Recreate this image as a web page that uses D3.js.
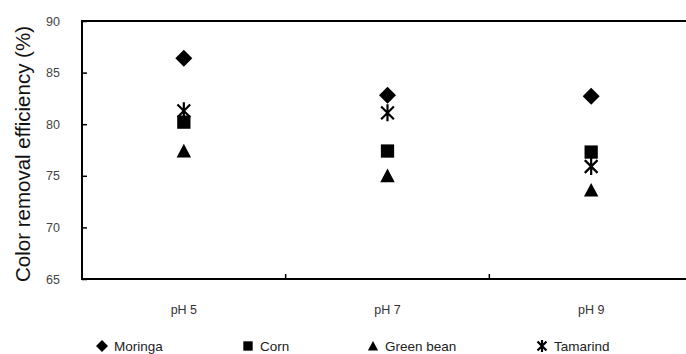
<!DOCTYPE html>
<html>
<head>
<meta charset="utf-8">
<script src="https://cdn.jsdelivr.net/npm/d3@7/dist/d3.min.js"></script>
<style>
  body { margin: 0; background: #fff; }
  text { font-family: Arial, "Liberation Sans", sans-serif; }
</style>
</head>
<body>
<div id="graph"></div>
<script>
// chart data
const categories = ["pH 5", "pH 7", "pH 9"];
const seriesNames = ["Moringa", "Corn", "Green bean", "Tamarind"];
const moringa = [86.4, 82.8, 82.7];
const corn = [80.2, 77.4, 77.3];
const greenBean = [77.4, 75.0, 73.6];
const tamarind = [81.3, 81.1, 75.9];
const yTicks = [65, 70, 75, 80, 85, 90];

const series = [
  { name: seriesNames[0], values: moringa, shape: "diamond" },
  { name: seriesNames[1], values: corn, shape: "square" },
  { name: seriesNames[2], values: greenBean, shape: "triangle" },
  { name: seriesNames[3], values: tamarind, shape: "star" }
];

const W = 686, H = 354;
const margin = { left: 82, top: 21 };
const width = 611, height = 258;

const svg = d3.select("#graph").append("svg")
  .attr("width", W).attr("height", H);

const g = svg.append("g")
  .attr("transform", "translate(" + margin.left + "," + margin.top + ")");

const x = d3.scaleBand().domain(categories).range([0, width]);
const y = d3.scaleLinear().domain([65, 90]).range([height, 0]);

// frame
g.append("rect")
  .attr("width", width).attr("height", height)
  .attr("fill", "none").attr("stroke", "#000").attr("stroke-width", 2);

// y axis, ticks pointing inward
const yAxis = g.append("g")
  .call(d3.axisRight(y).tickValues(yTicks).tickSize(5).tickFormat(""));
yAxis.select(".domain").remove();
yAxis.selectAll("line").attr("stroke", "#000").attr("stroke-width", 1.5);

g.selectAll(".ylab")
  .data(yTicks)
  .enter()
  .append("text")
  .attr("x", -22)
  .attr("y", d => y(d) + 4.5)
  .attr("text-anchor", "end")
  .attr("font-size", 12.5)
  .attr("fill", "#444")
  .text(d => d);

// x axis: ticks at band boundaries, pointing up
const bounds = categories.slice(1).map(c => x(c));
g.selectAll(".xtick")
  .data(bounds)
  .enter()
  .append("line")
  .attr("x1", d => d).attr("x2", d => d)
  .attr("y1", height).attr("y2", height - 5)
  .attr("stroke", "#000").attr("stroke-width", 1.5);

g.selectAll(".xlab")
  .data(categories)
  .enter()
  .append("text")
  .attr("x", d => x(d) + x.bandwidth() / 2)
  .attr("y", height + 35)
  .attr("text-anchor", "middle")
  .attr("font-size", 12.5)
  .attr("fill", "#333")
  .text(d => d);

// y title
svg.append("text")
  .attr("transform", "translate(30," + (margin.top + height / 2 + 4) + ") rotate(-90)")
  .attr("text-anchor", "middle")
  .attr("font-size", 20.5)
  .attr("fill", "#111")
  .text("Color removal efficiency (%)");

// marker drawing
function drawMarker(sel, shape, s) {
  if (shape === "diamond") {
    sel.append("path").attr("d", `M0,${-s}L${s},0L0,${s}L${-s},0Z`).attr("fill", "#000");
  } else if (shape === "square") {
    sel.append("rect").attr("x", -s * 0.78).attr("y", -s * 0.78)
      .attr("width", s * 1.56).attr("height", s * 1.56).attr("fill", "#000");
  } else if (shape === "triangle") {
    sel.append("path").attr("d", `M0,${-s * 0.85}L${s * 0.85},${s * 0.75}L${-s * 0.85},${s * 0.75}Z`).attr("fill", "#000");
  } else {
    const a = s * 0.75;
    sel.append("path")
      .attr("d", `M${-a},${-a}L${a},${a}M${a},${-a}L${-a},${a}M0,${-s}L0,${s}`)
      .attr("stroke", "#000").attr("stroke-width", 2.2).attr("fill", "none");
  }
}

series.forEach(function (sr) {
  g.selectAll(null)
    .data(sr.values)
    .enter()
    .append("g")
    .attr("transform", (d, i) => "translate(" + (x(categories[i]) + x.bandwidth() / 2) + "," + y(d) + ")")
    .each(function () { drawMarker(d3.select(this), sr.shape, 8.5); });
});

// legend
const legendX = [102, 248, 373, 542];
const legendY = 346;
series.forEach(function (sr, i) {
  const lg = svg.append("g").attr("transform", "translate(" + legendX[i] + "," + legendY + ")");
  drawMarker(lg, sr.shape, 6);
  lg.append("text")
    .attr("x", 12)
    .attr("y", 5)
    .attr("font-size", 13.5)
    .attr("fill", "#222")
    .text(sr.name);
});
</script>
</body>
</html>
